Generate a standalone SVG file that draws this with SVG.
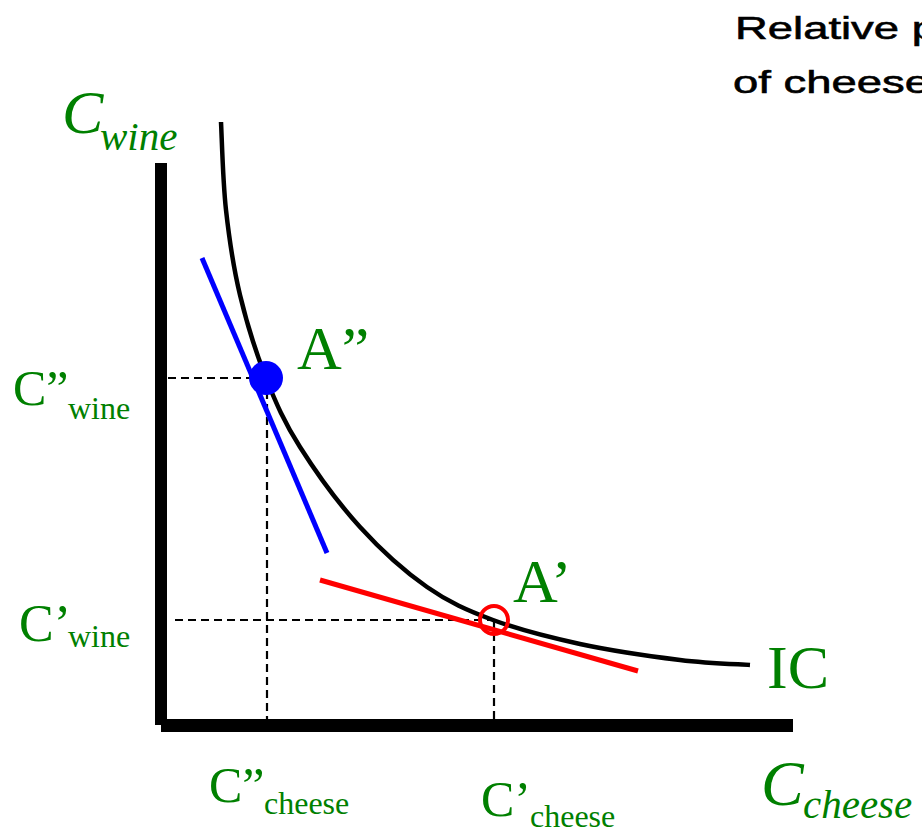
<svg xmlns="http://www.w3.org/2000/svg" width="922" height="832" viewBox="0 0 922 832">
<defs>
<style>
.lbl{font-family:"Liberation Serif","Times New Roman",serif;fill:#008000;}
.it{font-style:italic;}
.dash{stroke:#000;stroke-width:2.2;stroke-dasharray:8,5;fill:none;}
.axis{fill:#000;}
.title{font-family:"Liberation Sans",Arial,sans-serif;font-size:32px;fill:#000;stroke:#000;stroke-width:0.6;}
</style>
</defs>
<rect width="922" height="832" fill="#fff"/>
<g id="title">
<text class="title" transform="translate(735,39) scale(1.42,1)">Relative p</text>
<text class="title" transform="translate(733,93) scale(1.42,1)">of cheese</text>
</g>
<g id="connectors">
<path class="dash" d="M168,378 H262 M267,378 V719"/>
<path class="dash" d="M175,620 H493 M494,620 V719"/>
</g>
<g id="axes">
<rect class="axis" x="155" y="163" width="12" height="562"/>
<rect class="axis" x="161" y="719" width="632" height="13"/>
</g>
<g id="ic-curve">
<path fill="none" stroke="#000" stroke-width="4.5" d="M221,122 C221.8,136.7 222.8,181.2 226,210 C229.2,238.8 233.3,267 240,295 C246.7,323 256,352.7 266,378 C276,403.3 284.3,422.2 300,447 C315.7,471.8 338.8,503.7 360,527 C381.2,550.3 404.8,571.5 427,587 C449.2,602.5 467.5,610.5 493,620 C518.5,629.5 548.8,637.3 580,644 C611.2,650.7 651.7,656.5 680,660 C708.3,663.5 738.3,664.2 750,665"/>
</g>
<g id="tangent-blue">
<line x1="202" y1="258" x2="327" y2="553" stroke="#0000ff" stroke-width="5"/>
</g>
<g id="tangent-red">
<line x1="320" y1="580" x2="638" y2="671" stroke="#ff0000" stroke-width="5"/>
</g>
<g id="point-A2">
<circle cx="266" cy="378" r="17" fill="#0000ff"/>
<text class="lbl" x="297" y="369" font-size="62">A”</text>
</g>
<g id="point-A1">
<circle cx="494" cy="620" r="14" fill="none" stroke="#ff0000" stroke-width="4"/>
<text class="lbl" x="513" y="602" font-size="62">A’</text>
</g>
<g id="label-IC">
<text class="lbl" x="767" y="688" font-size="62">IC</text>
</g>
<g id="axis-label-wine">
<text class="lbl it" x="62" y="133" font-size="62">C</text>
<text class="lbl it" x="100" y="150" font-size="41">wine</text>
</g>
<g id="axis-label-cheese">
<text class="lbl it" x="761" y="805" font-size="64">C</text>
<text class="lbl it" x="803" y="818" font-size="41">cheese</text>
</g>
<g id="label-C2wine">
<text class="lbl" x="13" y="405" font-size="50">C”</text>
<text class="lbl" x="68" y="419" font-size="32">wine</text>
</g>
<g id="label-C1wine">
<text class="lbl" x="19" y="641" font-size="52">C’</text>
<text class="lbl" x="68" y="647" font-size="32">wine</text>
</g>
<g id="label-C2cheese">
<text class="lbl" x="209" y="802" font-size="50">C”</text>
<text class="lbl" x="264" y="814" font-size="32">cheese</text>
</g>
<g id="label-C1cheese">
<text class="lbl" x="481" y="816" font-size="50">C’</text>
<text class="lbl" x="530" y="827" font-size="32">cheese</text>
</g>
</svg>
